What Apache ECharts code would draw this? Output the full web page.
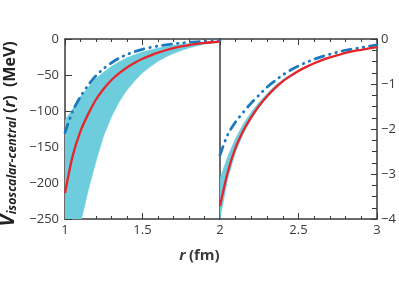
<!DOCTYPE html>
<html><head><meta charset="utf-8">
<script src="https://cdn.jsdelivr.net/npm/echarts@6/dist/echarts.min.js"></script>
<style>html,body{margin:0;padding:0;background:#fff}#c{width:399px;height:299px}</style>
</head><body><div id="c"></div>
<script>
// Left panel: r from 1 to 2 fm (MeV scale -250..0)
const rLeft = [1.00,1.05,1.10,1.15,1.20,1.25,1.30,1.35,1.40,1.45,1.50,1.55,1.60,1.65,1.70,1.75,1.80,1.85,1.90,1.95,2.00];
const redLeft = [-214,-162,-128,-104,-84,-69,-57,-47.5,-39.5,-33,-27.5,-23,-19,-15.6,-12.7,-10.3,-8.4,-6.8,-5.5,-4.5,-3.7];
const blueLeft = [-130,-100,-80,-64,-51,-41,-33,-26.5,-21.5,-17.5,-14.3,-11.8,-9.8,-8.1,-6.7,-5.6,-4.6,-3.9,-3.3,-2.9,-2.6];
const bandUpperLeft = [-113,-97,-80,-67,-55,-46,-38,-31.5,-26,-21.8,-18.2,-15.2,-12.6,-10.5,-8.8,-7.4,-6.2,-5.2,-4.3,-3.6,-3.1];
const bandLowerLeft = [-340,-295,-256,-210,-170,-134,-108,-87,-71,-58,-47,-38.5,-31,-25,-20,-16,-12.5,-9.6,-7.3,-5.5,-4];
// Right panel: r from 2 to 3 fm (MeV scale -4..0)
const rRight = [2.00,2.05,2.10,2.15,2.20,2.25,2.30,2.35,2.40,2.45,2.50,2.55,2.60,2.65,2.70,2.75,2.80,2.85,2.90,2.95,3.00];
const redRight = [-3.71,-2.95,-2.41,-2.03,-1.73,-1.48,-1.27,-1.09,-0.94,-0.82,-0.71,-0.62,-0.54,-0.47,-0.41,-0.36,-0.31,-0.27,-0.24,-0.21,-0.18];
const blueRight = [-2.58,-2.12,-1.84,-1.62,-1.42,-1.24,-1.07,-0.93,-0.80,-0.69,-0.60,-0.52,-0.45,-0.39,-0.34,-0.29,-0.25,-0.22,-0.19,-0.16,-0.13];
const bandUpperRight = [-3.1,-2.6,-2.2,-1.88,-1.62,-1.40,-1.21,-1.04,-0.90,-0.79,-0.69,-0.61,-0.53,-0.46,-0.40,-0.35,-0.30,-0.26,-0.23,-0.20,-0.18];
const bandLowerRight = [-4.0,-3.1,-2.5,-2.1,-1.78,-1.52,-1.3,-1.11,-0.95,-0.83,-0.72,-0.63,-0.55,-0.47,-0.41,-0.36,-0.31,-0.27,-0.24,-0.21,-0.19];
const xTicksLeft = ['1','1.5'];
const xTicksRight = ['2','2.5','3'];

const pairs = (xs, ys) => xs.map((x, i) => [x, ys[i]]);
const bandRows = (xs, up, lo) => xs.map((x, i) => [x, up[i], lo[i]]);

const AX = '#3a3a3a';
const FONT = 'Open Sans';
const CYAN = '#6dcddc';
const RED = '#e8242b';
const BLUE = '#1b79c0';

function bandRender(rows) {
  return function (params, api) {
    if (params.dataIndex !== 0) return null;
    const top = rows.map(r => api.coord([r[0], r[1]]));
    const bot = rows.map(r => api.coord([r[0], r[2]])).reverse();
    const cs = params.coordSys;
    return {
      type: 'group',
      clipPath: {type: 'rect', shape: {x: cs.x, y: cs.y, width: cs.width, height: cs.height}},
      children: [{type: 'polygon', shape: {points: top.concat(bot), smooth: 0}, style: {fill: CYAN, stroke: CYAN, lineWidth: 0.5}}]
    };
  };
}

function xAxisCfg(grid, min, max, pos, labels) {
  return {
    type: 'value', gridIndex: grid, min: min, max: max, interval: 0.5, position: pos,
    axisLine: {show: true, onZero: false, lineStyle: {color: AX, width: 1.5}},
    axisTick: {show: true, inside: true, length: 6, lineStyle: {color: AX, width: 1}},
    minorTick: {show: true, splitNumber: 5, length: 3, lineStyle: {color: AX, width: 1}},
    splitLine: {show: false},
    axisLabel: {show: !!labels, margin: 5, color: AX, fontFamily: FONT, fontSize: 13,
      formatter: v => { const s = String(v); return labels && labels.indexOf(s) >= 0 ? s : ''; }}
  };
}
const fmtMinus = v => (v < 0 ? '\u2212' + Math.abs(v) : String(v));
const leftRows = bandRows(rLeft, bandUpperLeft, bandLowerLeft);
const rightRows = bandRows(rRight, bandUpperRight, bandLowerRight);

const option = {
  animation: false,
  grid: [
    {left: 65, top: 39, width: 155, height: 180},
    {left: 220, top: 39, width: 157, height: 180}
  ],
  xAxis: [
    xAxisCfg(0, 1, 2, 'bottom', xTicksLeft),
    xAxisCfg(0, 1, 2, 'top', null),
    xAxisCfg(1, 2, 3, 'bottom', xTicksRight),
    xAxisCfg(1, 2, 3, 'top', null)
  ],
  yAxis: [
    {type: 'value', gridIndex: 0, min: -250, max: 0, interval: 50, position: 'left',
     axisLine: {show: true, onZero: false, lineStyle: {color: AX, width: 1.5}},
     axisTick: {show: true, inside: true, length: 7, lineStyle: {color: AX}},
     splitLine: {show: false},
     axisLabel: {margin: 6, color: AX, fontFamily: FONT, fontSize: 13, formatter: fmtMinus}},
    {type: 'value', gridIndex: 1, min: -4, max: 0, interval: 1, position: 'right',
     axisLine: {show: true, onZero: false, lineStyle: {color: AX, width: 1.5}},
     axisTick: {show: true, inside: true, length: 6, lineStyle: {color: AX}},
     minorTick: {show: true, splitNumber: 4, length: 5, lineStyle: {color: AX}},
     splitLine: {show: false},
     axisLabel: {margin: 4, color: AX, fontFamily: FONT, fontSize: 13, formatter: fmtMinus}},
    {type: 'value', gridIndex: 1, min: -4, max: 0, position: 'left',
     axisLine: {show: true, onZero: false, lineStyle: {color: AX, width: 1.5}},
     axisTick: {show: false}, axisLabel: {show: false}, splitLine: {show: false}}
  ],
  series: [
    {type: 'custom', xAxisIndex: 0, yAxisIndex: 0, renderItem: bandRender(leftRows), data: leftRows,
     encode: {x: 0, y: [1, 2]}, z: 1, silent: true},
    {type: 'line', xAxisIndex: 0, yAxisIndex: 0, symbol: 'none', smooth: 0.3,
     lineStyle: {color: BLUE, width: 2.8, type: [9, 6, 0.5, 6, 0.5, 6], cap: 'round'}, data: pairs(rLeft, blueLeft), z: 3},
    {type: 'line', xAxisIndex: 0, yAxisIndex: 0, symbol: 'none', smooth: 0.3,
     lineStyle: {color: RED, width: 2.3}, data: pairs(rLeft, redLeft), z: 4},

    {type: 'custom', xAxisIndex: 2, yAxisIndex: 1, renderItem: bandRender(rightRows), data: rightRows,
     encode: {x: 0, y: [1, 2]}, z: 1, silent: true},
    {type: 'line', xAxisIndex: 2, yAxisIndex: 1, symbol: 'none', smooth: 0.3,
     lineStyle: {color: BLUE, width: 2.8, type: [9, 6, 0.5, 6, 0.5, 6], cap: 'round'}, data: pairs(rRight, blueRight), z: 3},
    {type: 'line', xAxisIndex: 2, yAxisIndex: 1, symbol: 'none', smooth: 0.3,
     lineStyle: {color: RED, width: 2.3}, data: pairs(rRight, redRight), z: 4}
  ],
  graphic: [
    {type: 'text', left: 'center', x: 0, top: 248,
     style: {text: '{i|r} {b|(fm)}', rich: {
       i: {fontFamily: FONT, fontWeight: 'bold', fontStyle: 'italic', fontSize: 15, fill: AX},
       b: {fontFamily: FONT, fontWeight: 'bold', fontSize: 15, fill: AX}}}},
    {type: 'text', x: 8, y: 134, rotation: Math.PI / 2,
     style: {text: '{v|V}{s|isoscalar-central}{m| (}{i|r}{m|)  (MeV)}', align: 'center', verticalAlign: 'middle',
       rich: {
         v: {fontFamily: FONT, fontWeight: 'bold', fontStyle: 'italic', fontSize: 21, fill: '#222', verticalAlign: 'bottom'},
         s: {fontFamily: FONT, fontWeight: 'bold', fontStyle: 'italic', fontSize: 12.3, fill: '#222', verticalAlign: 'bottom'},
         i: {fontFamily: FONT, fontWeight: 'bold', fontStyle: 'italic', fontSize: 16, fill: '#222', verticalAlign: 'bottom'},
         m: {fontFamily: FONT, fontWeight: 'bold', fontSize: 16, fill: '#222', verticalAlign: 'bottom'}
       }}}
  ]
};
echarts.init(document.getElementById('c')).setOption(option);
</script></body></html>
